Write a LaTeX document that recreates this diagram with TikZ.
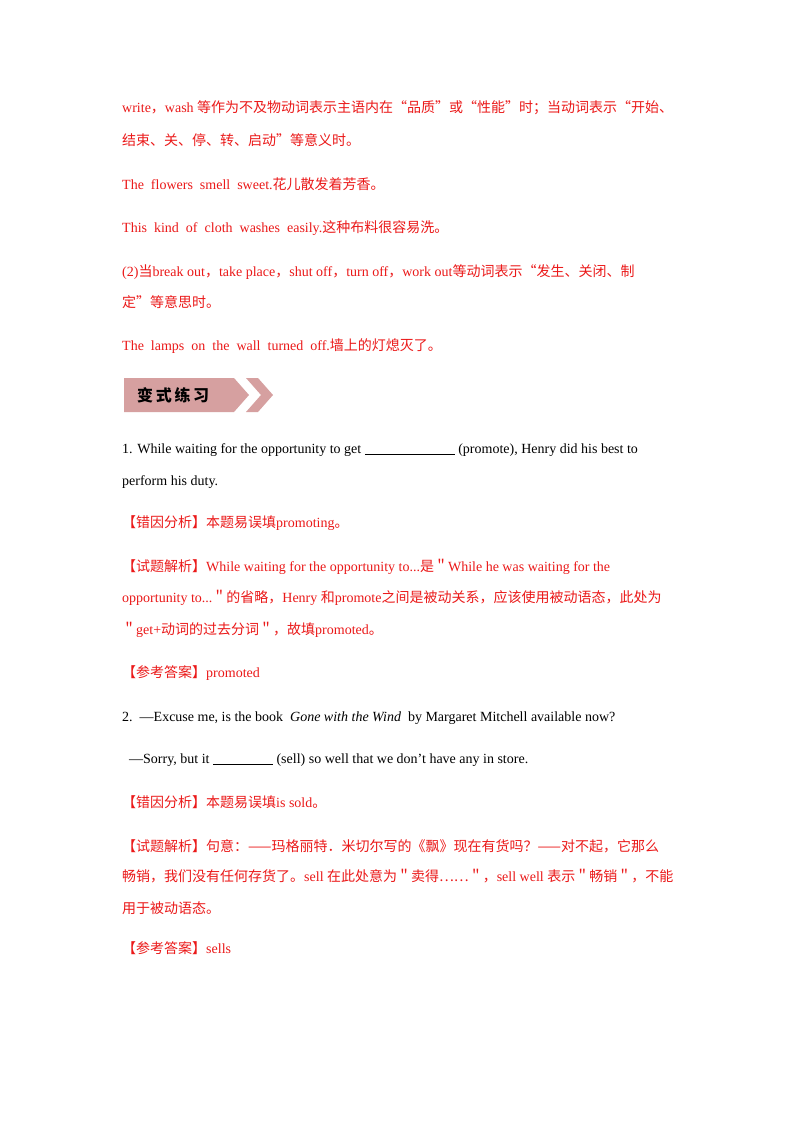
\documentclass[tikz,border=0pt]{standalone}
\usepackage{fontspec}
\setmainfont{Liberation Serif}
\newfontfamily\cjk{Noto Sans CJK SC}
\definecolor{tred}{RGB}{235,25,25}
\definecolor{bannerpink}{RGB}{214,160,160}
\newcommand{\cm}{{\cjk ，}}
\newcommand{\qq}{{\cjk ＂}}
\begin{document}
\begin{tikzpicture}[x=1pt,y=-1pt,
  t/.style={anchor=base west,inner sep=0pt,font=\fontsize{14}{14}\selectfont},
  r/.style={t,text=tred}]
\useasboundingbox (0,0) rectangle (800,1132);
\fill[white] (0,0) rectangle (800,1132);
\node[r] (l1) at (122,112) {write\cm wash {\cjk 等作为不及物动词表示主语内在“品质”或“性能”时；当动词表示“开始、}};
\node[r] (l2) at (122,145) {\cjk 结束、关、停、转、启动”等意义时。};
\node[r] (l3) at (122,189) {The\ \ flowers\ \ smell\ \ sweet.{\cjk 花儿散发着芳香。}};
\node[r] (l4) at (122,232) {This\ \ kind\ \ of\ \ cloth\ \ washes\ \ easily.{\cjk 这种布料很容易洗。}};
\node[r] (l5) at (122,276) {(2){\cjk 当}break\ out\cm take\ place\cm shut\ off\cm turn\ off\cm work\ out{\cjk 等动词表示“发生、关闭、制}};
\node[r] (l6) at (122,307) {\cjk 定”等意思时。};
\node[r] (l7) at (122,350) {The\ \ lamps\ \ on\ \ the\ \ wall\ \ turned\ \ off.{\cjk 墙上的灯熄灭了。}};
% banner
\fill[bannerpink] (124,378) -- (234,378) -- (249,395) -- (234,412) -- (124,412) -- cycle;
\fill[bannerpink] (246,378) -- (258,378) -- (273,395) -- (258,412) -- (246,412) -- (261,395) -- cycle;
\node[anchor=west,inner sep=0pt,font=\cjk\bfseries\fontsize{16}{16}\selectfont] (ban) at (137,395) {变\,式\,练\,习};
\node[t] (q1a) at (122,453) {1. While waiting for the opportunity to get \rule[-1pt]{90pt}{0.5pt} (promote), Henry did his best to};
\node[t] (q1b) at (122,485) {perform his duty.};
\node[r] (a1) at (122,527) {{\cjk 【错因分析】本题易误填}promoting{\cjk 。}};
\node[r] (a2) at (122,571) {{\cjk 【试题解析】}While waiting for the opportunity to...{\cjk 是}\qq While he was waiting for the};
\node[r] (a3) at (122,602) {opportunity to...\qq{\cjk 的省略，}Henry {\cjk 和}promote{\cjk 之间是被动关系，应该使用被动语态，此处为}};
\node[r] (a4) at (122,634) {\qq get+{\cjk 动词的过去分词}\qq{\cjk ，故填}promoted{\cjk 。}};
\node[r] (a5) at (122,677) {{\cjk 【参考答案】}promoted};
\node[t] (q2a) at (122,721) {2.\ \ —Excuse me, is the book\ \ \textit{Gone with the Wind}\ \ by Margaret Mitchell available now?};
\node[t] (q2b) at (122,763) {\ \ —Sorry, but it \rule[-1pt]{60pt}{0.5pt} (sell) so well that we don’t have any in store.};
\node[r] (b1) at (122,807) {{\cjk 【错因分析】本题易误填}is sold{\cjk 。}};
\node[r] (b2) at (122,851) {\cjk 【试题解析】句意：——玛格丽特．米切尔写的《飘》现在有货吗？——对不起，它那么};
\node[r] (b3) at (122,881) {{\cjk 畅销，我们没有任何存货了。}sell {\cjk 在此处意为}\qq{\cjk 卖得……}\qq\cm sell well {\cjk 表示}\qq{\cjk 畅销}\qq\cm{\cjk 不能}};
\node[r] (b4) at (122,913) {\cjk 用于被动语态。};
\node[r] (b5) at (122,953) {{\cjk 【参考答案】}sells};
\end{tikzpicture}
\end{document}
